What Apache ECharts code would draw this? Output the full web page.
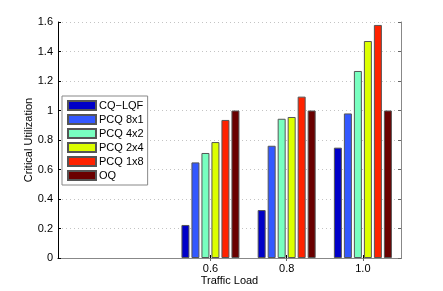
<!DOCTYPE html>
<html><head><meta charset="utf-8">
<script src="https://cdn.jsdelivr.net/npm/echarts@6/dist/echarts.min.js"></script>
<style>html,body{margin:0;padding:0;background:#fff}#c{width:443px;height:291px}</style>
</head><body><div id="c"></div>
<script>
var loads = [0.6, 0.8, 1.0];
var seriesNames = ['CQ\u2212LQF', 'PCQ 8x1', 'PCQ 4x2', 'PCQ 2x4', 'PCQ 1x8', 'OQ'];
var cqLqf = [0.224, 0.325, 0.748];
var pcq8x1 = [0.648, 0.761, 0.98];
var pcq4x2 = [0.712, 0.944, 1.268];
var pcq2x4 = [0.786, 0.956, 1.471];
var pcq1x8 = [0.936, 1.094, 1.58];
var oq = [1.0, 1.0, 1.0];
var yTicks = [0, 0.2, 0.4, 0.6, 0.8, 1, 1.2, 1.4, 1.6];
var colors = ['#0000c8', '#3358ff', '#78ffc0', '#dcff00', '#ff2200', '#6a0000'];
var allValues = [cqLqf, pcq8x1, pcq4x2, pcq2x4, pcq1x8, oq];

var font = 'Liberation Sans, Arial, Helvetica, sans-serif';
var chart = echarts.init(document.getElementById('c'), null, {renderer: 'canvas'});
var series = seriesNames.map(function (n, i) {
  return {
    name: n, type: 'bar', barWidth: 8, barGap: '25%',
    itemStyle: {color: colors[i], borderColor: '#555', borderWidth: 1},
    data: loads.map(function (x, j) { return [x, allValues[i][j]]; })
  };
});
chart.setOption({
  animation: false,
  textStyle: {fontFamily: font},
  grid: {left: 58, right: 42, top: 22, bottom: 33},
  legend: {
    orient: 'vertical', left: 62, top: 96,
    icon: 'rect',
    itemWidth: 28, itemHeight: 9, itemGap: 3,
    padding: [4, 4, 4, 5],
    backgroundColor: '#fff', borderColor: '#888', borderWidth: 1,
    textStyle: {fontSize: 11, color: '#000', fontFamily: font, lineHeight: 11, padding: [0, 0, 0, -2]},
    data: seriesNames
  },
  xAxis: [{
    type: 'value', min: 0.2, max: 1.1, interval: 0.2,
    name: 'Traffic Load', nameLocation: 'middle', nameGap: 17, nameMoveOverlap: false,
    nameTextStyle: {fontSize: 11, color: '#000', fontFamily: font},
    axisLine: {lineStyle: {color: '#000', width: 1}},
    axisTick: {inside: true, length: 3, customValues: loads, lineStyle: {color: '#000'}},
    axisLabel: {customValues: loads, fontSize: 11, color: '#000', margin: 5,
      formatter: function (v) { return v.toFixed(1); }},
    splitLine: {show: false}
  }, {
    type: 'value', position: 'top', min: 0.2, max: 1.1, interval: 0.2,
    axisLine: {show: true, lineStyle: {color: '#888', width: 1}},
    axisTick: {inside: true, length: 3, customValues: loads, lineStyle: {color: '#666'}},
    axisLabel: {show: false}, splitLine: {show: false}
  }],
  yAxis: [{
    type: 'value', min: 0, max: 1.6, interval: 0.2,
    name: 'Critical Utilization', nameLocation: 'middle', nameGap: 24, nameMoveOverlap: false,
    nameTextStyle: {fontSize: 11, color: '#000', fontFamily: font},
    axisLine: {show: true, lineStyle: {color: '#000', width: 1}},
    axisTick: {show: true, inside: true, length: 3, lineStyle: {color: '#000'}},
    axisLabel: {fontSize: 11, color: '#000', margin: 5,
      formatter: function (v) { return String(Math.round(v * 10) / 10); }},
    splitLine: {show: true, lineStyle: {color: '#c4c4c4', type: [1, 3], width: 1}}
  }, {
    type: 'value', position: 'right', min: 0, max: 1.6, interval: 0.2,
    axisLine: {show: true, lineStyle: {color: '#888', width: 1}},
    axisTick: {show: true, inside: true, length: 3, lineStyle: {color: '#666'}},
    axisLabel: {show: false}, splitLine: {show: false}
  }],
  series: series
});
</script></body></html>
